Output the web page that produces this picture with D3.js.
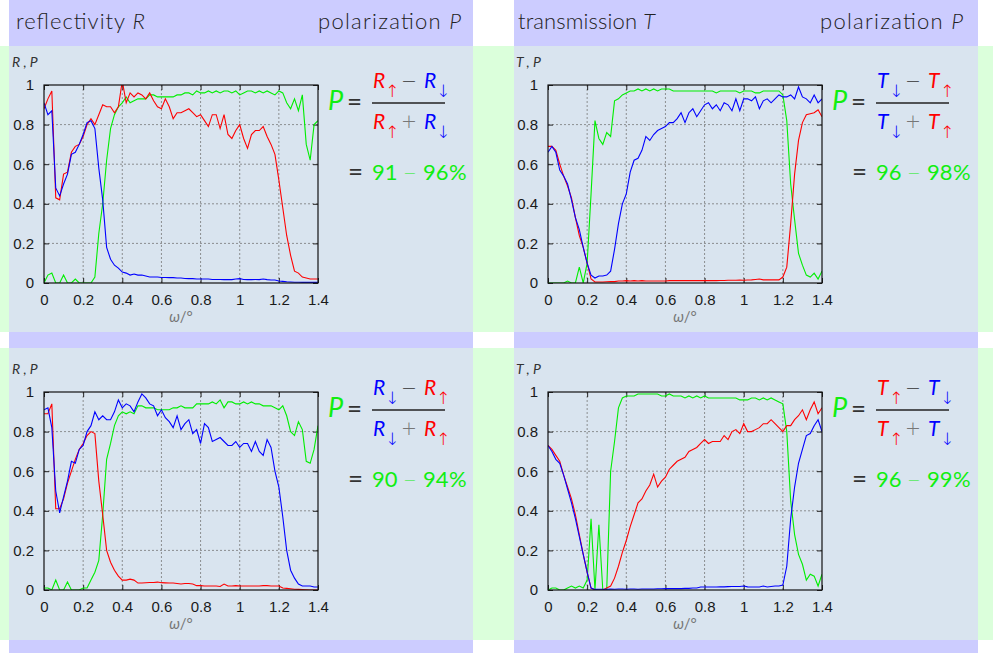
<!DOCTYPE html>
<html>
<head>
<meta charset="utf-8">
<script src="https://cdn.jsdelivr.net/npm/d3@7"></script>
<style>
body { margin: 0; background: #fff; }
svg { display: block; }
</style>
</head>
<body>
<script>
// angle omega in degrees
const omega = [0,0.02,0.04,0.06,0.08,0.1,0.12,0.14,0.16,0.18,0.2,0.22,0.24,0.26,0.28,0.3,0.32,0.34,0.36,0.38,
  0.4,0.42,0.44,0.46,0.48,0.5,0.52,0.54,0.56,0.58,0.6,0.62,0.64,0.66,0.68,0.7,0.72,0.74,0.76,0.78,
  0.8,0.82,0.84,0.86,0.88,0.9,0.92,0.94,0.96,0.98,1,1.02,1.04,1.06,1.08,1.1,1.12,1.14,1.16,1.18,
  1.2,1.22,1.24,1.26,1.28,1.3,1.32,1.34,1.36,1.38,1.4];

// top left: reflectivity
const rUpTop = [0.88,0.93,0.97,0.43,0.42,0.55,0.56,0.66,0.69,0.70,0.74,0.80,0.83,0.80,0.85,0.90,0.89,0.89,0.86,0.89,
  1.02,0.91,0.96,0.94,0.96,0.95,0.93,0.96,0.92,0.89,0.88,0.93,0.89,0.83,0.86,0.86,0.87,0.88,0.86,0.84,
  0.85,0.82,0.79,0.85,0.85,0.78,0.85,0.75,0.73,0.77,0.80,0.73,0.68,0.75,0.77,0.77,0.79,0.74,0.70,0.65,
  0.52,0.38,0.24,0.14,0.06,0.05,0.03,0.025,0.02,0.02,0.02];
const rDownTop = [0.91,0.85,0.87,0.48,0.44,0.50,0.55,0.65,0.66,0.70,0.75,0.81,0.82,0.78,0.58,0.42,0.18,0.12,0.09,0.075,
  0.055,0.05,0.04,0.045,0.04,0.04,0.035,0.03,0.03,0.03,0.028,0.028,0.027,0.027,0.025,0.025,0.023,0.022,0.022,0.02,
  0.02,0.02,0.02,0.018,0.018,0.018,0.017,0.017,0.017,0.02,0.022,0.018,0.017,0.017,0.018,0.017,0.02,0.017,0.015,0.015,
  0.01,0.008,0.006,0.005,0.004,0.004,0.003,0.003,0.003,0.003,0.003];
const polRTop = [0,0.04,0.05,0,0,0.04,0,0,0.02,0,0,0,0,0.03,0.25,0.40,0.62,0.78,0.85,0.89,
  0.91,0.94,0.91,0.92,0.93,0.93,0.93,0.95,0.95,0.94,0.94,0.94,0.94,0.94,0.95,0.95,0.96,0.96,0.95,0.97,
  0.96,0.96,0.97,0.96,0.97,0.96,0.97,0.97,0.96,0.97,0.95,0.96,0.97,0.97,0.96,0.97,0.96,0.97,0.96,0.95,
  0.97,0.96,0.91,0.88,0.93,0.87,0.95,0.70,0.62,0.80,0.82];

// top right: transmission
const tUpTop = [0.69,0.69,0.67,0.60,0.54,0.49,0.43,0.33,0.24,0.18,0.10,0.02,0.005,0.005,0.005,0.006,0.007,0.007,0.01,0.01,
  0.012,0.01,0.012,0.01,0.012,0.01,0.01,0.01,0.01,0.01,0.01,0.012,0.012,0.012,0.012,0.012,0.012,0.012,0.012,0.012,
  0.012,0.012,0.012,0.012,0.013,0.013,0.014,0.014,0.014,0.015,0.014,0.015,0.016,0.018,0.02,0.016,0.016,0.016,0.016,0.016,
  0.03,0.08,0.30,0.55,0.72,0.81,0.85,0.855,0.86,0.875,0.84];
const tDownTop = [0.66,0.69,0.66,0.57,0.54,0.50,0.42,0.33,0.27,0.18,0.10,0.04,0.025,0.035,0.035,0.04,0.06,0.17,0.30,0.40,
  0.45,0.56,0.62,0.63,0.67,0.74,0.72,0.75,0.77,0.78,0.79,0.81,0.81,0.83,0.86,0.81,0.86,0.88,0.84,0.87,
  0.90,0.91,0.88,0.90,0.87,0.91,0.90,0.87,0.93,0.87,0.93,0.93,0.92,0.94,0.88,0.92,0.93,0.91,0.93,0.95,
  0.94,0.94,0.95,0.93,0.99,0.94,0.93,0.91,0.95,0.91,0.93];
const polTTop = [0,0,0,0,0,0.01,0,0,0.08,0,0.10,0.45,0.82,0.73,0.70,0.76,0.74,0.92,0.93,0.95,
  0.96,0.97,0.97,0.98,0.97,0.98,0.97,0.98,0.97,0.98,0.98,0.98,0.97,0.97,0.97,0.97,0.97,0.97,0.97,0.97,
  0.97,0.97,0.97,0.96,0.97,0.97,0.97,0.97,0.97,0.96,0.97,0.97,0.97,0.96,0.96,0.97,0.97,0.97,0.97,0.97,
  0.95,0.82,0.50,0.32,0.15,0.09,0.04,0.03,0.05,0.02,0.06];

// bottom left: reflectivity
const rUpBot = [0.89,0.89,0.94,0.41,0.41,0.46,0.54,0.60,0.66,0.71,0.74,0.78,0.80,0.79,0.55,0.38,0.20,0.14,0.10,0.07,
  0.05,0.05,0.055,0.05,0.035,0.035,0.037,0.038,0.038,0.04,0.037,0.036,0.035,0.035,0.033,0.03,0.033,0.033,0.03,0.022,
  0.022,0.02,0.02,0.02,0.02,0.018,0.03,0.02,0.02,0.022,0.02,0.02,0.02,0.02,0.02,0.02,0.022,0.022,0.02,0.02,
  0.02,0.01,0.008,0.006,0.004,0.003,0.002,0.001,0,0,0];
const rDownBot = [0.91,0.92,0.82,0.50,0.39,0.47,0.55,0.65,0.64,0.71,0.73,0.80,0.83,0.90,0.86,0.88,0.86,0.86,0.90,0.96,
  0.92,0.94,0.93,0.90,0.95,0.99,0.97,0.94,0.93,0.88,0.91,0.87,0.85,0.82,0.88,0.81,0.84,0.86,0.79,0.81,
  0.74,0.84,0.82,0.75,0.76,0.77,0.75,0.73,0.73,0.75,0.72,0.74,0.74,0.70,0.75,0.70,0.68,0.76,0.72,0.60,
  0.52,0.37,0.20,0.10,0.06,0.03,0.02,0.02,0.02,0.015,0.015];
const polRBot = [0.01,0.01,0,0.05,0,0,0.04,0,0,0,0.01,0.01,0.05,0.09,0.15,0.38,0.66,0.74,0.83,0.88,
  0.90,0.89,0.90,0.89,0.93,0.93,0.92,0.92,0.92,0.91,0.91,0.91,0.91,0.92,0.92,0.93,0.92,0.92,0.92,0.94,
  0.94,0.94,0.94,0.95,0.94,0.96,0.92,0.95,0.95,0.94,0.94,0.95,0.94,0.95,0.94,0.94,0.93,0.93,0.93,0.92,
  0.91,0.93,0.88,0.80,0.78,0.85,0.81,0.65,0.64,0.71,0.83];

// bottom right: transmission
const tUpBot = [0.73,0.71,0.68,0.65,0.58,0.52,0.46,0.38,0.28,0.18,0.09,0.01,0,0,0,0.01,0.02,0.06,0.12,0.19,
  0.25,0.32,0.38,0.44,0.46,0.50,0.53,0.585,0.52,0.55,0.57,0.61,0.63,0.65,0.66,0.67,0.70,0.71,0.72,0.74,
  0.76,0.74,0.75,0.75,0.75,0.78,0.76,0.80,0.81,0.79,0.84,0.80,0.80,0.81,0.82,0.84,0.84,0.86,0.84,0.82,
  0.80,0.83,0.83,0.86,0.88,0.91,0.86,0.91,0.95,0.89,0.92];
const tDownBot = [0.73,0.70,0.66,0.64,0.58,0.51,0.44,0.36,0.27,0.18,0.09,0.01,0.003,0.004,0.004,0.004,0.005,0.004,0.005,0.005,
  0.004,0.005,0.005,0.004,0.005,0.005,0.005,0.005,0.006,0.006,0.007,0.007,0.007,0.007,0.007,0.008,0.008,0.01,0.01,0.015,
  0.015,0.015,0.015,0.015,0.016,0.016,0.017,0.018,0.018,0.018,0.02,0.016,0.015,0.015,0.015,0.02,0.015,0.018,0.02,0.02,
  0.025,0.12,0.36,0.52,0.64,0.71,0.78,0.79,0.83,0.86,0.80];
const polTBot = [0,0.01,0.01,0,0,0.01,0.02,0.01,0.02,0.01,0.05,0.36,0,0.33,0,0,0.60,0.75,0.92,0.97,
  0.98,0.98,0.98,0.99,0.99,0.99,0.99,0.99,0.99,0.98,0.98,0.99,0.98,0.98,0.98,0.97,0.98,0.97,0.98,0.97,
  0.98,0.97,0.97,0.97,0.97,0.97,0.97,0.97,0.97,0.96,0.96,0.96,0.97,0.97,0.96,0.97,0.96,0.97,0.96,0.95,
  0.94,0.80,0.45,0.28,0.18,0.13,0.05,0.08,0.07,0.02,0.08];

const xTicks = [0,0.2,0.4,0.6,0.8,1,1.2,1.4];
const yTicks = [0,0.2,0.4,0.6,0.8,1];
const ranges = [["91","96"],["96","98"],["90","94"],["96","99"]];

const RED = "#ff0000", BLUE = "#0000ff", GREEN = "#00ee00", GREENTXT = "#11ee11";
const LAV = "#ccccff", BODY = "#d9e4ef", SIDE = "#dbffdb";
const sans = "Lato, 'DejaVu Sans', sans-serif";
const symFont = "'DejaVu Sans', sans-serif";
const tickFont = "'Liberation Sans', Arial, sans-serif";

const svg = d3.select("body").append("svg")
  .attr("width", 993)
  .attr("height", 653);

svg.append("rect").attr("width", 993).attr("height", 653).attr("fill", "#fff");

// background blocks
[[0, 46, 286], [0, 348, 292]].forEach(function(r) {
  svg.append("rect").attr("x", 0).attr("y", r[1]).attr("width", 993).attr("height", r[2]).attr("fill", SIDE);
  svg.append("rect").attr("x", 9).attr("y", r[1]).attr("width", 464).attr("height", r[2]).attr("fill", BODY);
  svg.append("rect").attr("x", 514).attr("y", r[1]).attr("width", 464).attr("height", r[2]).attr("fill", BODY);
});
[[0, 46], [332, 16], [640, 13]].forEach(function(r) {
  svg.append("rect").attr("x", 9).attr("y", r[0]).attr("width", 464).attr("height", r[1]).attr("fill", LAV);
  svg.append("rect").attr("x", 514).attr("y", r[0]).attr("width", 464).attr("height", r[1]).attr("fill", LAV);
});

// header titles
[["reflectivity ", "R", 0, 129], ["transmission ", "T", 502, 137]].forEach(function(h) {
  const t = svg.append("text").attr("x", 16 + h[2]).attr("y", 29)
    .attr("font-family", sans).attr("font-size", 22).attr("font-weight", 300).attr("fill", "#222")
    .attr("textLength", h[3]).attr("lengthAdjust", "spacing");
  t.append("tspan").text(h[0]);
  t.append("tspan").attr("font-style", "italic").text(h[1]);
  const p = svg.append("text").attr("x", 318 + h[2]).attr("y", 29)
    .attr("font-family", sans).attr("font-size", 22).attr("font-weight", 300).attr("fill", "#222")
    .attr("textLength", 143).attr("lengthAdjust", "spacing");
  p.append("tspan").text("polarization ");
  p.append("tspan").attr("font-style", "italic").text("P");
});

const panels = [
  {ox: 0,   oy: 0,   L: "R", red: rUpTop, blue: rDownTop, green: polRTop, first: "up", range: ranges[0]},
  {ox: 504, oy: 0,   L: "T", red: tUpTop, blue: tDownTop, green: polTTop, first: "down", range: ranges[1]},
  {ox: 0,   oy: 307, L: "R", red: rUpBot, blue: rDownBot, green: polRBot, first: "down", range: ranges[2]},
  {ox: 504, oy: 307, L: "T", red: tUpBot, blue: tDownBot, green: polTBot, first: "up", range: ranges[3]}
];

const x0 = 44, x1 = 318, yTop = 85, yBot = 283;

panels.forEach(function(p, pi) {
  const g = svg.append("g").attr("transform", "translate(" + p.ox + "," + p.oy + ")");
  const x = d3.scaleLinear().domain([0, 1.4]).range([x0, x1]);
  const y = d3.scaleLinear().domain([0, 1]).range([yBot, yTop]);

  // grid
  g.append("g").selectAll("line").data(xTicks.slice(1, -1)).enter().append("line")
    .attr("x1", function(d) { return x(d); }).attr("x2", function(d) { return x(d); })
    .attr("y1", yTop).attr("y2", yBot)
    .attr("stroke", "#777").attr("stroke-width", 0.8).attr("stroke-dasharray", "2,2");
  g.append("g").selectAll("line").data(yTicks.slice(1, -1)).enter().append("line")
    .attr("y1", function(d) { return y(d); }).attr("y2", function(d) { return y(d); })
    .attr("x1", x0).attr("x2", x1)
    .attr("stroke", "#777").attr("stroke-width", 0.8).attr("stroke-dasharray", "2,2");

  // axes
  const fmt = function(d) { return String(d); };
  g.append("g").attr("transform", "translate(0," + yBot + ")")
    .call(d3.axisBottom(x).tickValues(xTicks).tickFormat(fmt).tickSize(-5).tickPadding(11));
  g.append("g").attr("transform", "translate(" + x0 + ",0)")
    .call(d3.axisLeft(y).tickValues(yTicks).tickFormat(fmt).tickSize(-5).tickPadding(10));
  g.append("g").attr("transform", "translate(0," + yTop + ")")
    .call(d3.axisTop(x).tickValues(xTicks).tickFormat("").tickSize(-5));
  g.append("g").attr("transform", "translate(" + x1 + ",0)")
    .call(d3.axisRight(y).tickValues(yTicks).tickFormat("").tickSize(-5));
  g.selectAll(".domain").remove();
  g.selectAll(".tick line").attr("stroke", "#222");
  g.selectAll(".tick text").attr("font-family", tickFont).attr("font-size", 15).attr("fill", "#1a1a1a");

  // curves
  const clipId = "clip" + pi;
  g.append("clipPath").attr("id", clipId).append("rect")
    .attr("x", x0).attr("y", yTop).attr("width", x1 - x0).attr("height", yBot - yTop);
  const line = d3.line()
    .x(function(d, i) { return x(omega[i]); })
    .y(function(d) { return y(d); });
  [[p.green, GREEN], [p.red, RED], [p.blue, BLUE]].forEach(function(s) {
    g.append("path").datum(s[0])
      .attr("clip-path", "url(#" + clipId + ")")
      .attr("d", line)
      .attr("fill", "none")
      .attr("stroke", s[1])
      .attr("stroke-width", 1.1);
  });

  // frame
  g.append("rect").attr("x", x0).attr("y", yTop).attr("width", x1 - x0).attr("height", yBot - yTop)
    .attr("fill", "none").attr("stroke", "#111").attr("stroke-width", 1.2);

  // axis labels
  g.append("text").attr("x", 12).attr("y", 67)
    .attr("font-family", sans).attr("font-size", 14).attr("fill", "#333").attr("font-style", "italic")
    .text(p.L + " , P");
  const xl = g.append("text").attr("x", (x0 + x1) / 2).attr("y", 322).attr("text-anchor", "middle")
    .attr("font-family", sans).attr("font-size", 15).attr("fill", "#777");
  xl.append("tspan").attr("font-style", "italic").text("ω");
  xl.append("tspan").text("/°");

  // formula
  const up = {c: RED, a: "↑"}, down = {c: BLUE, a: "↓"};
  const terms = p.first === "up" ? [up, down] : [down, up];
  g.append("text").attr("x", 328).attr("y", 110).attr("font-family", sans).attr("font-size", 27)
    .attr("font-style", "italic").attr("fill", GREENTXT).text("P");
  g.append("text").attr("x", 347).attr("y", 111).attr("font-family", sans).attr("font-size", 26)
    .attr("fill", "#333").text("=");
  g.append("line").attr("x1", 372).attr("x2", 445).attr("y1", 103).attr("y2", 103)
    .attr("stroke", "#222").attr("stroke-width", 1.3);
  [[88, "−", "#333"], [129, "+", "#777"]].forEach(function(row) {
    const base = row[0];
    [373, 424].forEach(function(tx, k) {
      g.append("text").attr("x", tx).attr("y", base).attr("font-family", sans).attr("font-size", 21)
        .attr("font-style", "italic").attr("fill", terms[k].c).text(p.L);
      g.append("text").attr("x", tx + 12).attr("y", base + 9).attr("font-family", symFont)
        .attr("font-size", 17).attr("font-weight", 200).attr("fill", terms[k].c).text(terms[k].a);
    });
    g.append("text").attr("x", 409).attr("y", base - 1).attr("text-anchor", "middle").attr("font-family", symFont)
      .attr("font-size", 19).attr("font-weight", 200).attr("fill", row[2]).text(row[1]);
  });
  g.append("text").attr("x", 348).attr("y", 181).attr("font-family", sans).attr("font-size", 26)
    .attr("fill", "#333").text("=");
  // result range, each piece placed on its own
  [[372, 180, p.range[0], sans], [403, 179, "−", symFont], [423, 180, p.range[1], sans], [449, 180, "%", sans]].forEach(function(piece) {
    g.append("text").attr("x", piece[0]).attr("y", piece[1]).attr("font-family", piece[3])
      .attr("font-size", piece[3] === sans ? 22 : 16).attr("font-weight", piece[3] === sans ? 400 : 200)
      .attr("fill", GREENTXT).text(piece[2]);
  });
});
</script>
</body>
</html>
